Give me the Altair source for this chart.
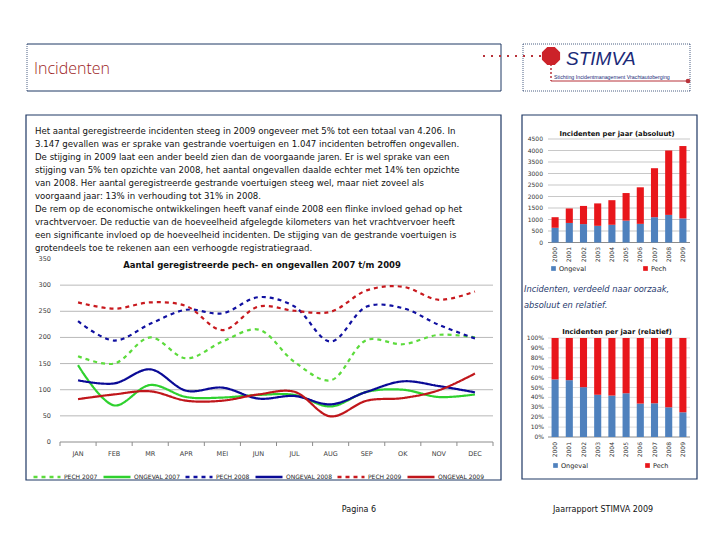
import altair as alt
import pandas as pd

OX, OY = 8, 8
def px(v): return v - OX
def py(v): return v - OY

FONT = "DejaVu Sans"
NAVY = "#1F3864"

# ---------------- data ----------------
months = ["JAN", "FEB", "MR", "APR", "MEI", "JUN", "JUL", "AUG", "SEP", "OK", "NOV", "DEC"]
series_names = ["PECH 2007", "ONGEVAL 2007", "PECH 2008", "ONGEVAL 2008", "PECH 2009", "ONGEVAL 2009"]
pech_2007 = [164, 150, 200, 160, 192, 215, 153, 118, 195, 187, 205, 200]
ongeval_2007 = [147, 70, 109, 86, 85, 90, 90, 68, 96, 100, 86, 91]
pech_2008 = [231, 194, 226, 253, 246, 277, 259, 192, 259, 256, 224, 198]
ongeval_2008 = [118, 112, 139, 98, 104, 83, 88, 72, 96, 116, 107, 95]
pech_2009 = [267, 255, 267, 260, 214, 259, 251, 249, 290, 297, 272, 288]
ongeval_2009 = [82, 91, 97, 79, 79, 91, 96, 49, 79, 84, 99, 131]
line_ticks = [0, 50, 100, 150, 200, 250, 300, 350]

years = [str(y) for y in range(2000, 2010)]
causes = ["Ongeval", "Pech"]
ongeval_year = [640, 850, 800, 725, 770, 950, 810, 1100, 1200, 1047]
pech_year = [460, 630, 790, 975, 1070, 1200, 1590, 2130, 2800, 3147]
abs_ticks = [0, 500, 1000, 1500, 2000, 2500, 3000, 3500, 4000, 4500]
rel_ticks = [0, 0.1, 0.2, 0.3, 0.4, 0.5, 0.6, 0.7, 0.8, 0.9, 1.0]

paragraph = [
    "Het aantal geregistreerde incidenten steeg in 2009 ongeveer met 5% tot een totaal van 4.206. In",
    "3.147 gevallen was er sprake van gestrande voertuigen en 1.047 incidenten betroffen ongevallen.",
    "De stijging in 2009 laat een ander beeld zien dan de voorgaande jaren. Er is wel sprake van een",
    "stijging van 5% ten opzichte van 2008, het aantal ongevallen daalde echter met 14% ten opzichte",
    "van 2008. Her aantal geregistreerde gestrande voertuigen steeg wel, maar niet zoveel als",
    "voorgaand jaar: 13% in verhouding tot 31% in 2008.",
    "De rem op de economische ontwikkelingen heeft vanaf einde 2008 een flinke invloed gehad op het",
    "vrachtvervoer. De reductie van de hoeveelheid afgelegde kilometers van het vrachtvervoer heeft",
    "een significante invloed op de hoeveelheid incidenten. De stijging van de gestrande voertuigen is",
    "grotendeels toe te rekenen aan een verhoogde registratiegraad.",
]

# ---------------- tables ----------------
series_values = [pech_2007, ongeval_2007, pech_2008, ongeval_2008, pech_2009, ongeval_2009]
line_df = pd.DataFrame(
    [{"month": m, "series": s, "value": v}
     for s, vals in zip(series_names, series_values) for m, v in zip(months, vals)]
)
bar_df = pd.DataFrame(
    [{"year": y, "cause": c, "value": v, "ord": i}
     for i, (c, vals) in enumerate(zip(causes, [ongeval_year, pech_year]))
     for y, v in zip(years, vals)]
)
one = pd.DataFrame({"k": [0]})
month_df = pd.DataFrame({"month": months})
year_df = pd.DataFrame({"year": years})
lt_df = pd.DataFrame({"v": line_ticks})
at_df = pd.DataFrame({"v": abs_ticks})
rt_df = pd.DataFrame({"v": rel_ticks, "lab": [f"{int(round(t*100))}%" for t in rel_ticks]})
para_df = pd.DataFrame({"i": list(range(len(paragraph))), "t": paragraph})

layers = []

# ---------------- decorative boxes ----------------
def rect(x1, y1, x2, y2, stroke=NAVY, sw=1.0, dash=None):
    kw = dict(fillOpacity=0, stroke=stroke, strokeWidth=sw)
    if dash:
        kw["strokeDash"] = dash
    return alt.Chart(one).mark_rect(**kw).encode(
        x=alt.value(px(x1)), x2=alt.value(px(x2)), y=alt.value(py(y1)), y2=alt.value(py(y2)))

def hrule(x1, x2, y, color=NAVY, sw=1.0, dash=None):
    kw = dict(color=color, strokeWidth=sw)
    if dash:
        kw["strokeDash"] = dash
    return alt.Chart(one).mark_rule(**kw).encode(
        x=alt.value(px(x1)), x2=alt.value(px(x2)), y=alt.value(py(y)))

def vrule(x, y1, y2, color=NAVY, sw=1.0, dash=None):
    kw = dict(color=color, strokeWidth=sw)
    if dash:
        kw["strokeDash"] = dash
    return alt.Chart(one).mark_rule(**kw).encode(
        x=alt.value(px(x)), y=alt.value(py(y1)), y2=alt.value(py(y2)))

def label(text, x, y, size=8, color="#222222", align="left", weight="normal",
          style="normal", font=FONT, baseline="middle"):
    return alt.Chart(one).mark_text(
        text=text, fontSize=size, color=color, align=align, baseline=baseline,
        fontWeight=weight, fontStyle=style, font=font).encode(
        x=alt.value(px(x)), y=alt.value(py(y)))

# header title box (solid top/bottom, dotted sides)
layers += [hrule(27, 501, 44), hrule(27, 501, 91),
           vrule(27, 44, 91, sw=0.8, dash=[1, 1]), vrule(501, 44, 91)]
layers.append(label("Incidenten", 34, 69, size=16, color="#9C1C1C", font="Open Sans", weight=300))

# logo box
layers += [hrule(523, 690, 44, sw=0.8, dash=[1, 1]), hrule(523, 690, 91, sw=0.8, dash=[1, 1]),
           vrule(523, 44, 91, sw=0.8, dash=[1, 1]), vrule(690, 44, 91, sw=0.8, dash=[1, 1])]
layers.append(hrule(483, 541, 56, color="#B8323A", sw=2, dash=[2, 6]))
layers.append(vrule(551, 64, 81, color="#B8323A", sw=1.5, dash=[2, 2]))
layers.append(hrule(551, 688, 81, color="#B8323A", sw=1))
layers.append(alt.Chart(one).mark_point(
    shape="M-0.41,-1L0.41,-1L1,-0.41L1,0.41L0.41,1L-0.41,1L-1,0.41L-1,-0.41Z",
    filled=True, color="#CC2229", size=330, opacity=1).encode(
    x=alt.value(px(551)), y=alt.value(py(56))))
layers.append(alt.Chart(one).mark_circle(color="#B8323A", size=22, opacity=1).encode(
    x=alt.value(px(688)), y=alt.value(py(81))))
layers.append(label("STIMVA", 566, 59, size=19, color="#1B2A78", style="italic",
                    font="Liberation Sans"))
layers.append(label("Stichting Incidentmanagement Vrachtautoberging", 554, 77, size=5.3,
                    color="#1B2A78", font="Liberation Sans"))

# content boxes
layers.append(rect(26, 115, 501, 480, sw=1.2))
layers.append(rect(522, 115, 697, 479, sw=1.2))

# paragraph
layers.append(alt.Chart(para_df).mark_text(
    align="left", baseline="middle", fontSize=8.6, font=FONT, color="#111111").encode(
    x=alt.value(px(35)),
    y=alt.Y("i:O", scale=alt.Scale(type="point", domain=list(range(len(paragraph))),
                                   range=[py(131), py(248)], padding=0), axis=None),
    text="t:N"))

# ---------------- line chart ----------------
lx = alt.Scale(type="band", domain=months, range=[px(60), px(493)], paddingInner=0, paddingOuter=0)
ly = alt.Scale(domain=[0, 350], range=[py(442), py(259)])

layers.append(alt.Chart(lt_df[(lt_df.v > 0) & (lt_df.v < 350)]).mark_rule(
    color="#A6A6A6", strokeWidth=0.8).encode(
    y=alt.Y("v:Q", scale=ly, axis=None), x=alt.value(px(60)), x2=alt.value(px(493))))
layers.append(hrule(60, 493, 442, color="#8C8C8C", sw=1))
layers.append(alt.Chart(month_df).mark_rule(color="#8C8C8C", strokeWidth=1).encode(
    x=alt.X("month:N", scale=lx, axis=None, bandPosition=0),
    y=alt.value(py(442)), y2=alt.value(py(446))))
layers.append(vrule(493, 442, 446, color="#8C8C8C"))
layers.append(alt.Chart(lt_df).mark_text(
    align="right", baseline="middle", fontSize=6.5, font=FONT, color="#404040").encode(
    y=alt.Y("v:Q", scale=ly, axis=None), x=alt.value(px(51)), text="v:Q"))
layers.append(alt.Chart(month_df).mark_text(
    baseline="middle", fontSize=6.5, font=FONT, color="#404040").encode(
    x=alt.X("month:N", scale=lx, axis=None, bandPosition=0.5),
    y=alt.value(py(454)), text="month:N"))
layers.append(label("Aantal geregistreerde pech- en ongevallen 2007 t/m 2009", 262, 265,
                    size=8.5, weight="bold", align="center", color="#111111"))

line_colors = ["#5CDB3C", "#2ED12E", "#1010A0", "#0A0A96", "#C8191E", "#C0161B"]
line_dashes = [[4, 4], [1, 0], [4, 4], [1, 0], [4, 4], [1, 0]]
leg = alt.Legend(orient="none", legendX=px(32), legendY=py(462), direction="horizontal",
                 title=None, symbolType="stroke", symbolSize=729, symbolStrokeWidth=2.5,
                 labelFontSize=6, labelFont=FONT, labelColor="#222222", columnPadding=0,
                 labelOffset=2, padding=0)
layers.append(alt.Chart(line_df).mark_line(interpolate="catmull-rom", strokeWidth=2.2).encode(
    x=alt.X("month:N", scale=lx, axis=None, bandPosition=0.5),
    y=alt.Y("value:Q", scale=ly, axis=None),
    color=alt.Color("series:N", scale=alt.Scale(domain=series_names, range=line_colors), legend=leg),
    strokeDash=alt.StrokeDash("series:N", scale=alt.Scale(domain=series_names, range=line_dashes),
                              legend=leg),
))

# ---------------- bar charts ----------------
bar_colors = ["#4F81BD", "#E8161B"]
bx = alt.Scale(type="band", domain=years, range=[px(548), px(690)], paddingInner=0.5, paddingOuter=0.25)
by_abs = alt.Scale(domain=[0, 4500], range=[py(242.5), py(139)])
by_rel = alt.Scale(domain=[0, 1], range=[py(437), py(338)])

def bar_legend(x, y):
    return alt.Legend(orient="none", legendX=px(x), legendY=py(y), direction="horizontal",
                      title=None, symbolType="square", symbolSize=22, labelFontSize=6.5,
                      labelFont=FONT, labelColor="#222222", columnPadding=56, labelOffset=2,
                      padding=0)

# absolute
layers.append(alt.Chart(at_df[at_df.v > 0]).mark_rule(color="#B0B0B0", strokeWidth=0.7).encode(
    y=alt.Y("v:Q", scale=by_abs, axis=None), x=alt.value(px(548)), x2=alt.value(px(690))))
layers.append(hrule(548, 690, 242.5, color="#8C8C8C", sw=1))
layers.append(alt.Chart(at_df).mark_text(
    align="right", baseline="middle", fontSize=6, font=FONT, color="#333333").encode(
    y=alt.Y("v:Q", scale=by_abs, axis=None), x=alt.value(px(543)), text="v:Q"))
layers.append(alt.Chart(bar_df).mark_bar().encode(
    x=alt.X("year:N", scale=bx, axis=None),
    y=alt.Y("value:Q", scale=by_abs, axis=None, stack="zero"),
    color=alt.Color("cause:N", scale=alt.Scale(domain=causes, range=bar_colors),
                    legend=bar_legend(550, 265)),
    order=alt.Order("ord:Q", sort="ascending"),
))
layers.append(alt.Chart(year_df).mark_text(
    angle=270, align="right", baseline="middle", fontSize=6, font=FONT, color="#333333").encode(
    x=alt.X("year:N", scale=bx, axis=None), y=alt.value(py(247)), text="year:N"))
layers.append(label("Incidenten per jaar (absoluut)", 617, 134, size=6.8, weight="bold",
                    align="center", color="#111111"))

# caption
layers.append(label("Incidenten, verdeeld naar oorzaak,", 524, 290, size=8.3, style="italic",
                    color="#1F3A6E"))
layers.append(label("absoluut en relatief.", 524, 306, size=8.3, style="italic", color="#1F3A6E"))

# relative
layers.append(alt.Chart(rt_df[rt_df.v > 0]).mark_rule(color="#C8C8C8", strokeWidth=0.6).encode(
    y=alt.Y("v:Q", scale=by_rel, axis=None), x=alt.value(px(548)), x2=alt.value(px(690))))
layers.append(hrule(548, 690, 437, color="#8C8C8C", sw=1))
layers.append(alt.Chart(rt_df).mark_text(
    align="right", baseline="middle", fontSize=6, font=FONT, color="#333333").encode(
    y=alt.Y("v:Q", scale=by_rel, axis=None), x=alt.value(px(544)), text="lab:N"))
layers.append(alt.Chart(bar_df).mark_bar().encode(
    x=alt.X("year:N", scale=bx, axis=None),
    y=alt.Y("value:Q", scale=by_rel, axis=None, stack="normalize"),
    color=alt.Color("cause:N", scale=alt.Scale(domain=causes, range=bar_colors),
                    legend=bar_legend(552, 462)),
    order=alt.Order("ord:Q", sort="ascending"),
))
layers.append(alt.Chart(year_df).mark_text(
    angle=270, align="right", baseline="middle", fontSize=6, font=FONT, color="#333333").encode(
    x=alt.X("year:N", scale=bx, axis=None), y=alt.value(py(442)), text="year:N"))
layers.append(label("Incidenten per jaar (relatief)", 617, 332, size=6.8, weight="bold",
                    align="center", color="#111111"))

# footer
layers.append(label("Pagina 6", 359, 510, size=8, align="center", color="#111111"))
layers.append(label("Jaarrapport STIMVA 2009", 553, 510, size=8, color="#111111"))

chart = alt.layer(*layers).resolve_scale(
    x="independent", y="independent", color="independent", strokeDash="independent"
).properties(
    width=704, height=524, autosize=alt.AutoSizeParams(type="none"), padding=0,
    background="white"
).configure_view(stroke=None)

chart.save("out.html", embed_options={"renderer": "svg", "actions": False})
